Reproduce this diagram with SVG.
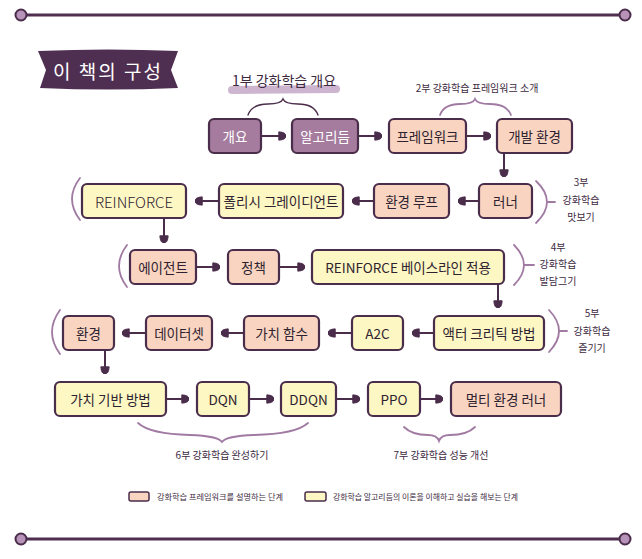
<svg xmlns="http://www.w3.org/2000/svg" width="642" height="559" viewBox="0 0 642 559">
<defs>
<style>
.n rect{stroke:#4a2c4b;stroke-width:2.2}
.p rect{fill:#a57b9e}
.f rect{fill:#f9d5c1}
.a rect{fill:#fdf7c3}
text{font-family:"Noto Sans CJK KR","Noto Sans",sans-serif;text-anchor:middle;dominant-baseline:central}
.n text{font-size:13.5px;fill:#2e2230}
.p text{fill:#ffffff}
.c{stroke:#4a2c4b;stroke-width:2;fill:none;marker-end:url(#ah)}
.br{stroke:#a07aa2;stroke-width:1.8;fill:none;stroke-linecap:round}
.lb{font-size:10px;fill:#3d2a3f}
.rule{stroke:#4e2f50;stroke-width:3}
.dot{fill:#b893b9;stroke:#4a2c4b;stroke-width:2}
</style>
<marker id="ah" viewBox="0 0 8 10" refX="8" refY="5" markerWidth="8" markerHeight="10" markerUnits="userSpaceOnUse" orient="auto">
<path d="M1,0.5 L1,9.5 M1,1 C6,1 8,3 8,5 C8,7 6,9 1,9 Z" fill="#4a2c4b" stroke="#4a2c4b" stroke-width="1"/>
</marker>
</defs>
<rect width="642" height="559" fill="#ffffff"/>

<g id="top-rule">
<line class="rule" x1="26" y1="15" x2="620" y2="15"/>
<circle class="dot" cx="21" cy="15" r="5.5"/>
<circle class="dot" cx="625" cy="15" r="5.5"/>
</g>
<g id="bottom-rule">
<line class="rule" x1="26" y1="539" x2="620" y2="539"/>
<circle class="dot" cx="21" cy="539" r="5.5"/>
<circle class="dot" cx="625" cy="539" r="5.5"/>
</g>

<g id="title">
<path d="M38,51 Q108,48 178,51 L171,70 L178,88 Q108,91 40,88 L46,70 Z" fill="#4f2f51"/>
<text x="108" y="70" style="font-size:19px;fill:#ffffff;letter-spacing:2px">이 책의 구성</text>
</g>

<g id="part1-label">
<line x1="232" y1="90" x2="336" y2="89" stroke="#cdb5cf" stroke-width="8" stroke-linecap="round"/>
<text x="284" y="80" style="font-size:14px;fill:#3d2a3f">1부 강화학습 개요</text>
<path class="br" d="M248,115 Q252,104 268,104 Q281,104 283,99 Q285,104 298,104 Q314,104 318,115" style="stroke:#4a2c4b;stroke-width:1.4"/>
</g>
<g id="part2-label">
<text class="lb" x="477" y="87">2부 강화학습 프레임워크 소개</text>
<path class="br" d="M440,115 Q444,104 460,104 Q473,104 475,99 Q477,104 490,104 Q507,104 511,115"/>
</g>

<g id="connectors">
<line class="c" x1="261" y1="136" x2="286" y2="136"/>
<line class="c" x1="358" y1="136" x2="382" y2="136"/>
<line class="c" x1="466" y1="136" x2="491" y2="136"/>
<line class="c" x1="504" y1="153" x2="504" y2="177"/>
<line class="c" x1="479" y1="201" x2="458" y2="201"/>
<line class="c" x1="374" y1="201" x2="352" y2="201"/>
<line class="c" x1="219" y1="201" x2="195" y2="201"/>
<line class="c" x1="164" y1="218" x2="164" y2="243"/>
<line class="c" x1="196" y1="267" x2="220" y2="267"/>
<line class="c" x1="279" y1="267" x2="305" y2="267"/>
<line class="c" x1="498" y1="284" x2="498" y2="308"/>
<line class="c" x1="434" y1="333" x2="412" y2="333"/>
<line class="c" x1="352" y1="333" x2="328" y2="333"/>
<line class="c" x1="244" y1="333" x2="221" y2="333"/>
<line class="c" x1="146" y1="333" x2="122" y2="333"/>
<line class="c" x1="105" y1="350" x2="105" y2="374"/>
<line class="c" x1="166" y1="399" x2="189" y2="399"/>
<line class="c" x1="249" y1="399" x2="274" y2="399"/>
<line class="c" x1="336" y1="399" x2="360" y2="399"/>
<line class="c" x1="420" y1="399" x2="443" y2="399"/>
</g>

<g id="n-overview" class="n p"><rect x="209" y="119" width="52" height="34" rx="5"/><text x="235" y="136">개요</text></g>
<g id="n-algorithm" class="n p"><rect x="292" y="119" width="66" height="34" rx="5"/><text x="325" y="136">알고리듬</text></g>
<g id="n-framework" class="n f"><rect x="389" y="119" width="77" height="34" rx="5"/><text x="427.5" y="136">프레임워크</text></g>
<g id="n-devenv" class="n f"><rect x="497" y="119" width="75" height="34" rx="5"/><text x="534.5" y="136">개발 환경</text></g>

<g id="n-runner" class="n f"><rect x="479" y="184" width="53" height="34" rx="5"/><text x="505.5" y="201">러너</text></g>
<g id="n-envloop" class="n f"><rect x="374" y="184" width="75" height="34" rx="5"/><text x="411.5" y="201">환경 루프</text></g>
<g id="n-pg" class="n a"><rect x="219" y="184" width="124" height="34" rx="5"/><text x="281" y="201">폴리시 그레이디언트</text></g>
<g id="n-reinforce" class="n a"><rect x="82" y="184" width="104" height="34" rx="5"/><text x="134" y="201" style="font-size:15px;font-weight:300">REINFORCE</text></g>

<g id="n-agent" class="n f"><rect x="130" y="250" width="66" height="34" rx="5"/><text x="163" y="267">에이전트</text></g>
<g id="n-policy" class="n f"><rect x="228" y="250" width="51" height="34" rx="5"/><text x="253.5" y="267">정책</text></g>
<g id="n-baseline" class="n a"><rect x="312" y="250" width="192" height="34" rx="5"/><text x="408" y="267">REINFORCE 베이스라인 적용</text></g>

<g id="n-actorcritic" class="n a"><rect x="434" y="316" width="110" height="34" rx="5"/><text x="489" y="333">액터 크리틱 방법</text></g>
<g id="n-a2c" class="n a"><rect x="352" y="316" width="51" height="34" rx="5"/><text x="377.5" y="333">A2C</text></g>
<g id="n-valuefn" class="n f"><rect x="244" y="316" width="75" height="34" rx="5"/><text x="281.5" y="333">가치 함수</text></g>
<g id="n-dataset" class="n f"><rect x="146" y="316" width="66" height="34" rx="5"/><text x="179" y="333">데이터셋</text></g>
<g id="n-env" class="n f"><rect x="63" y="316" width="51" height="34" rx="5"/><text x="88.5" y="333">환경</text></g>

<g id="n-valuebased" class="n a"><rect x="55" y="382" width="111" height="34" rx="5"/><text x="110.5" y="399">가치 기반 방법</text></g>
<g id="n-dqn" class="n a"><rect x="197" y="382" width="52" height="34" rx="5"/><text x="223" y="399">DQN</text></g>
<g id="n-ddqn" class="n a"><rect x="281" y="382" width="55" height="34" rx="5"/><text x="308.5" y="399">DDQN</text></g>
<g id="n-ppo" class="n a"><rect x="368" y="382" width="52" height="34" rx="5"/><text x="394" y="399">PPO</text></g>
<g id="n-multienv" class="n f"><rect x="451" y="382" width="110" height="34" rx="5"/><text x="506" y="399">멀티 환경 러너</text></g>

<g id="part3-label">
<path class="br" d="M80,178 Q64,199 80,220"/>
<path class="br" d="M536,181 Q558,202 536,223 M547,202 L555,202"/>
<text class="lb" x="581" y="181">3부</text>
<text class="lb" x="581" y="199">강화학습</text>
<text class="lb" x="581" y="216">맛보기</text>
</g>
<g id="part4-label">
<path class="br" d="M127,245 Q111,266 127,287"/>
<path class="br" d="M514,245 Q534,265 514,285 M524,265 L534,265"/>
<text class="lb" x="558" y="246">4부</text>
<text class="lb" x="558" y="263">강화학습</text>
<text class="lb" x="558" y="280">발담그기</text>
</g>
<g id="part5-label">
<path class="br" d="M60,310 Q44,332 60,354"/>
<path class="br" d="M549,310 Q569,331 549,352 M559,331 L567,331"/>
<text class="lb" x="592" y="312">5부</text>
<text class="lb" x="592" y="330">강화학습</text>
<text class="lb" x="592" y="347">즐기기</text>
</g>
<g id="part6-label">
<path class="br" d="M138,423 Q150,434 190,435 Q218,436 222,442 Q226,436 254,435 Q296,434 308,423"/>
<text class="lb" x="222" y="454">6부 강화학습 완성하기</text>
</g>
<g id="part7-label">
<path class="br" d="M404,427 Q412,435 428,435 Q437,435 439,441 Q441,435 450,435 Q467,435 475,427"/>
<text class="lb" x="441" y="454">7부 강화학습 성능 개선</text>
</g>

<g id="legend">
<rect x="129" y="492" width="20" height="9" rx="2" fill="#f9d5c1" stroke="#4a2c4b" stroke-width="1.5"/>
<text x="157" y="496.5" textLength="126" lengthAdjust="spacingAndGlyphs" style="font-size:8px;fill:#3d2a3f;text-anchor:start">강화학습 프레임워크를 설명하는 단계</text>
<rect x="305" y="492" width="21" height="9" rx="2" fill="#fdf7c3" stroke="#4a2c4b" stroke-width="1.5"/>
<text x="333" y="496.5" textLength="185" lengthAdjust="spacingAndGlyphs" style="font-size:8px;fill:#3d2a3f;text-anchor:start">강화학습 알고리듬의 이론을 이해하고 실습을 해보는 단계</text>
</g>
</svg>
